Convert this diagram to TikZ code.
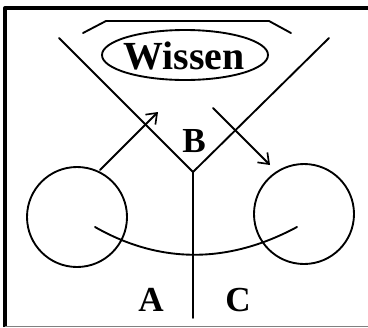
\documentclass[tikz,border=0pt]{standalone}
\usepackage{fontspec}
\setmainfont{Liberation Serif}
\usetikzlibrary{arrows.meta}

\begin{document}
\begin{tikzpicture}[x=0.03cm,y=-0.03cm,line cap=round,line join=round,every node/.style={inner sep=1pt},
  stroke/.style={line width=1.6pt},
  lbl/.style={font=\fontsize{30}{30}\selectfont\bfseries},
  barb/.style={-{Straight Barb[length=8pt,width=12pt,line width=1.4pt]}}]
  \useasboundingbox (0,0) rectangle (368,327);
  % frame
  \draw[line width=3.4pt,line cap=butt] (5,327) -- (5,8) -- (368,8);
  \draw[gray,line width=0.8pt,line cap=butt] (5,326) -- (368,326);
  % roof
  \coordinate (R1) at (83,33);
  \coordinate (R2) at (106,21);
  \coordinate (R3) at (269,21);
  \coordinate (R4) at (291,33);
  \draw[stroke] (R1) -- (R2) -- (R3) -- (R4);
  \node[font=\fontsize{34}{34}\selectfont\bfseries] (wissen) at (184,56) {Wissen};
  \draw[stroke] (185,55) ellipse[x radius=83,y radius=25];
  % V and stem
  \coordinate (armL) at (59,38);
  \coordinate (armR) at (329,38);
  \coordinate (vtx) at (193,172);
  \coordinate (foot) at (193,318);
  \draw[stroke] (armL) -- (vtx) -- (armR);
  \draw[stroke] (vtx) -- (foot);
  % circles
  \coordinate (left) at (77,217);
  \coordinate (right) at (304,214);
  \draw[stroke] (left) circle[radius=50];
  \draw[stroke] (right) circle[radius=50];
  % arc
  \coordinate (arcL) at (95,227);
  \coordinate (arcC1) at (160,264);
  \coordinate (arcC2) at (228,264);
  \coordinate (arcR) at (297,227);
  \draw[stroke] (arcL) .. controls (arcC1) and (arcC2) .. (arcR);
  % arrows
  \coordinate (outL) at (100,170);
  \coordinate (inL) at (158,112);
  \coordinate (outR) at (213,108);
  \coordinate (inR) at (270,165);
  \draw[stroke,barb] (outL) -- (inL);
  \draw[stroke,barb] (outR) -- (inR);
  % labels
  \node[lbl] (B) at (194,141) {B};
  \node[lbl] (A) at (151,300) {A};
  \node[lbl] (C) at (238,300) {C};
\end{tikzpicture}
\end{document}
